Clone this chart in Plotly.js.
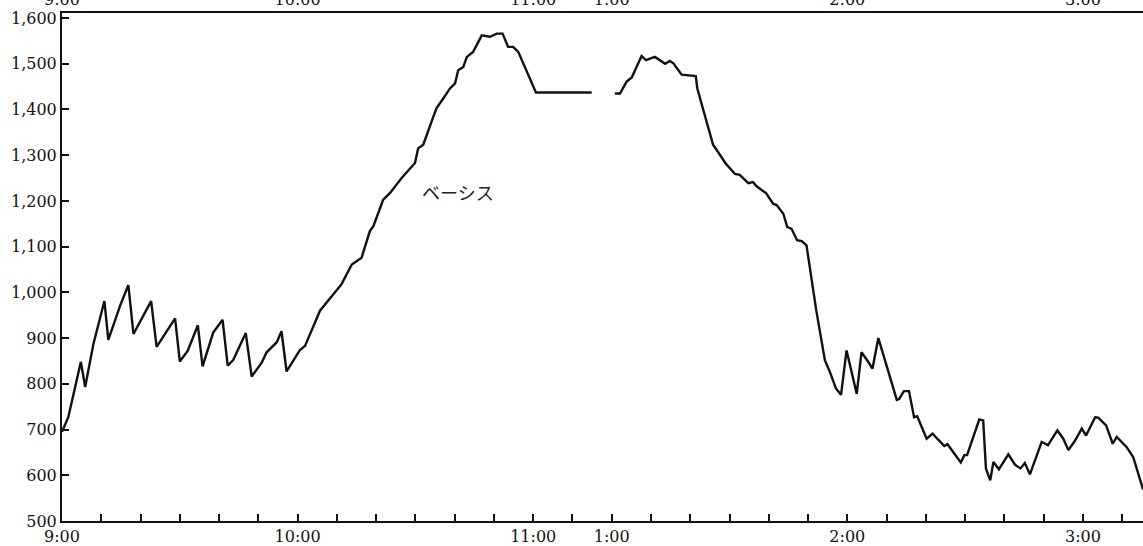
<!DOCTYPE html>
<html>
<head>
<meta charset="utf-8">
<script src="https://cdn.plot.ly/plotly-3.0.1.min.js"></script>
<style>html,body{margin:0;padding:0;background:#fff;}#chart{width:1143px;height:546px;}</style>
</head>
<body>
<div id="chart"></div>
<script>
// x = minutes along the chart axis from 9:00 (lunch break 11:00-1:00 compressed to 20 min)
const morningX = [0.0,1.6,4.8,5.9,8.0,10.8,11.8,14.8,16.9,18.2,22.7,24.1,28.8,30.0,32.0,34.6,35.8,38.5,40.9,42.2,43.6,46.8,48.3,50.9,52.1,54.7,55.9,57.2,60.6,61.9,65.7,71.2,73.8,76.3,78.4,79.3,81.8,83.5,86.5,89.9,90.7,92.0,94.6,95.4,97.1,98.8,100.1,100.9,102.2,103.1,104.7,106.9,109.0,110.7,112.2,113.6,114.9,116.2,120.7,134.9];
const morningY = [695,727,848,793,887,981,896,971,1016,909,981,881,943,849,872,928,838,912,940,840,852,911,816,847,869,891,915,827,874,883,960,1018,1061,1076,1134,1145,1203,1217,1250,1283,1315,1323,1385,1403,1424,1446,1457,1486,1493,1515,1526,1562,1559,1566,1566,1537,1537,1526,1437,1437];
const afternoonX = [140.8,142.1,143.8,145.1,147.6,148.7,151.0,153.6,154.8,155.7,157.8,161.4,161.8,165.8,166.7,169.1,171.4,172.6,174.8,176.0,176.9,179.3,181.1,182.0,183.7,184.7,185.8,187.2,188.4,189.6,192.1,194.3,195.6,197.1,198.4,199.8,202.4,203.6,205.1,206.4,207.9,212.6,213.2,214.4,215.7,217.0,217.8,220.2,221.7,224.7,225.5,228.9,229.8,230.5,233.6,234.6,235.3,236.4,237.2,238.6,241.0,242.7,244.1,245.2,246.5,249.5,251.1,253.5,255.0,256.3,258.0,259.7,260.8,263.1,263.9,265.9,267.6,268.6,271.1,272.8,275.3];
const afternoonY = [1435,1435,1461,1470,1517,1508,1515,1500,1506,1501,1476,1473,1446,1323,1312,1281,1259,1257,1239,1241,1232,1217,1194,1191,1172,1143,1139,1114,1112,1103,960,851,825,790,776,873,778,869,851,833,900,765,767,784,784,727,729,680,691,664,668,628,644,644,722,720,615,589,629,613,646,623,615,627,602,673,666,698,680,655,676,702,687,727,726,709,669,684,662,640,569];

const tickVals = [0,10,20,30,40,50,60,70,80,90,100,110,120,130,140,150,160,170,180,190,200,210,220,230,240,250,260,270];
const tickText = ['9:00','','','','','','10:00','','','','','','11:00','','1:00','','','','','','2:00','','','','','','3:00',''];
const yTicks = [500,600,700,800,900,1000,1100,1200,1300,1400,1500,1600];
const seriesLabel = 'ベーシス';

const tickFont = {family: 'DejaVu Serif, Liberation Serif, serif', size: 16, color: '#111'};
const lineStyle = {color: '#111', width: 2.4};

const data = [
  {x: morningX, y: morningY, xaxis: 'x', yaxis: 'y', type: 'scatter', mode: 'lines',
   line: lineStyle, hoverinfo: 'skip', showlegend: false},
  {x: afternoonX, y: afternoonY, xaxis: 'x2', yaxis: 'y', type: 'scatter', mode: 'lines',
   line: lineStyle, hoverinfo: 'skip', showlegend: false}
];

const xRange = [0, 275.3];

const layout = {
  width: 1143, height: 546,
  margin: {l: 62, r: 0, t: 13, b: 25},
  paper_bgcolor: '#fff', plot_bgcolor: '#fff',
  showlegend: false,
  xaxis: {
    range: xRange, tickmode: 'array', tickvals: tickVals, ticktext: tickText,
    ticks: 'inside', ticklen: 7, tickwidth: 2, tickcolor: '#111',
    showline: true, linecolor: '#111', linewidth: 2, showgrid: false, zeroline: false,
    tickfont: tickFont, fixedrange: true
  },
  xaxis2: {
    range: xRange, overlaying: 'x', side: 'top', anchor: 'y',
    tickmode: 'array', tickvals: tickVals, ticktext: tickText,
    ticks: '', showline: true, linecolor: '#111', linewidth: 2, showgrid: false, zeroline: false,
    tickfont: tickFont, fixedrange: true
  },
  yaxis: {
    range: [500, 1611], tickmode: 'array', tickvals: yTicks, tickformat: ',d',
    ticks: 'inside', ticklen: 7, tickwidth: 2, tickcolor: '#111',
    showline: true, linecolor: '#111', linewidth: 2, showgrid: false, zeroline: false,
    tickfont: tickFont, fixedrange: true
  },
  annotations: [{
    x: 100.8, y: 1220, xref: 'x', yref: 'y', text: seriesLabel, showarrow: false,
    font: {family: 'Noto Sans CJK JP', size: 18, color: '#222'}
  }]
};

Plotly.newPlot('chart', data, layout, {staticPlot: true, displayModeBar: false});
</script>
</body>
</html>
